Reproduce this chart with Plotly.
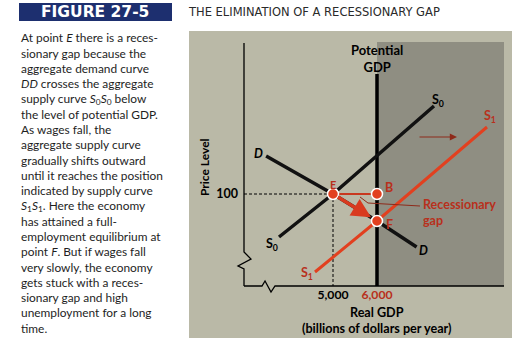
import plotly.graph_objects as go

W, H = 512, 350

# ---------------- data ----------------
gdp_tick_vals = [5000, 6000]
gdp_tick_labels = ["5,000", "6,000"]
price_tick_vals = [100]
price_tick_labels = ["100"]

demand_gdp = [3480, 5000, 6000, 6900]
demand_price = [109.5, 100, 93.25, 86.75]

s0_gdp = [3773, 5000, 7295]
s0_price = [89.25, 100, 122]

s1_gdp = [4591, 6000, 8500]
s1_price = [80.5, 93.25, 116.75]

potential_gdp = 6000
potential_price_top = 130

point_names = ["E", "B", "F"]
point_gdp = [5000, 6000, 6000]
point_price = [100, 100, 93.25]

gap_leader_gdp = [5614, 5795, 6977]
gap_leader_price = [99.25, 97.75, 97]

shift_arrow_gdp = [6932, 7818]
shift_arrow_price = [114.25, 114.25]

body_lines = [
    "At point <i>E</i> there is a reces-",
    "sionary gap because the",
    "aggregate demand curve",
    "<i>DD</i> crosses the aggregate",
    "supply curve <i>S</i><sub>0</sub><i>S</i><sub>0</sub> below",
    "the level of potential GDP.",
    "As wages fall, the",
    "aggregate supply curve",
    "gradually shifts outward",
    "until it reaches the position",
    "indicated by supply curve",
    "<i>S</i><sub>1</sub><i>S</i><sub>1</sub>. Here the economy",
    "has attained a full-",
    "employment equilibrium at",
    "point <i>F</i>. But if wages fall",
    "very slowly, the economy",
    "gets stuck with a reces-",
    "sionary gap and high",
    "unemployment for a long",
    "time.",
]

# ---------------- geometry ----------------
X_RANGE = [5000 - 89 / 0.044, 5000 + 171 / 0.044]
Y_RANGE = [77, 138]
X_DOM = [244 / W, 504 / W]
Y_DOM = [1 - 286 / H, 1 - 42 / H]


def xp(g):
    return X_DOM[0] + (g - X_RANGE[0]) / (X_RANGE[1] - X_RANGE[0]) * (X_DOM[1] - X_DOM[0])


def yp(p):
    return Y_DOM[0] + (p - Y_RANGE[0]) / (Y_RANGE[1] - Y_RANGE[0]) * (Y_DOM[1] - Y_DOM[0])


RED = "#e2401f"
DRED = "#b8301c"
BROWN = "#8e2a1a"
LIGHT = "#bab9a7"
DARK = "#8f8e82"
NAVY = "#1d2f6f"
FONT = "Lato"

fig = go.Figure()

# dashed guides
fig.add_trace(go.Scatter(x=[X_RANGE[0], point_gdp[0]], y=[point_price[0]] * 2, mode="lines",
                         line=dict(color="black", width=1, dash="3px,2px"), hoverinfo="skip"))
fig.add_trace(go.Scatter(x=[point_gdp[0]] * 2, y=[point_price[0], Y_RANGE[0]], mode="lines",
                         line=dict(color="black", width=1, dash="3px,2px"), hoverinfo="skip"))

# potential GDP
fig.add_trace(go.Scatter(x=[potential_gdp] * 2, y=[Y_RANGE[0], potential_price_top], mode="lines",
                         line=dict(color="black", width=3.5), hoverinfo="skip"))

# curves
fig.add_trace(go.Scatter(x=demand_gdp, y=demand_price, mode="lines",
                         line=dict(color="#111111", width=3.5), hoverinfo="skip"))
fig.add_trace(go.Scatter(x=s0_gdp, y=s0_price, mode="lines",
                         line=dict(color="#111111", width=3.5), hoverinfo="skip"))
fig.add_trace(go.Scatter(x=s1_gdp, y=s1_price, mode="lines",
                         line=dict(color=RED, width=3), hoverinfo="skip"))

# E to B
fig.add_trace(go.Scatter(x=point_gdp[:2], y=point_price[:2], mode="lines",
                         line=dict(color="#c9381f", width=2), hoverinfo="skip"))
# gap leader
fig.add_trace(go.Scatter(x=gap_leader_gdp, y=gap_leader_price, mode="lines",
                         line=dict(color=BROWN, width=1), hoverinfo="skip"))

# points
fig.add_trace(go.Scatter(x=point_gdp, y=point_price, mode="markers",
                         marker=dict(size=11, color=RED, line=dict(color="white", width=1.5)),
                         cliponaxis=False, hoverinfo="skip"))

shapes = []
# panel backgrounds
shapes.append(dict(type="rect", xref="paper", yref="paper", x0=189 / W, x1=1.0,
                   y0=1 - 338 / H, y1=1 - 31 / H, fillcolor=LIGHT, line=dict(width=0), layer="below"))
shapes.append(dict(type="rect", xref="paper", yref="paper", x0=xp(potential_gdp), x1=X_DOM[1],
                   y0=Y_DOM[0], y1=Y_DOM[1], fillcolor=DARK, line=dict(width=0), layer="below"))
# header box
shapes.append(dict(type="rect", xref="paper", yref="paper", x0=19 / W, x1=172 / W,
                   y0=1 - 21 / H, y1=1 - 3 / H, fillcolor=NAVY, line=dict(width=0), layer="below"))

# axis frame with breaks (data units)
yaxis_path_g = [X_RANGE[0], X_RANGE[0], 3136, 2841, X_RANGE[0], X_RANGE[0]]
yaxis_path_p = [Y_RANGE[1] - 0.25, 85.5, 83.75, 82, 81.25, Y_RANGE[0]]
xaxis_path_g = [X_RANGE[0], 3386, 3455, 3591, 3682, X_RANGE[1]]
xaxis_path_p = [Y_RANGE[0], Y_RANGE[0], 78.25, 75.5, Y_RANGE[0], Y_RANGE[0]]


def path_of(gs, ps):
    pts = [f"{xp(g):.5f},{yp(p):.5f}" for g, p in zip(gs, ps)]
    return "M" + " L".join(pts)


shapes.append(dict(type="path", xref="paper", yref="paper", path=path_of(yaxis_path_g, yaxis_path_p),
                   line=dict(color="black", width=1.3)))
shapes.append(dict(type="path", xref="paper", yref="paper", path=path_of(xaxis_path_g, xaxis_path_p),
                   line=dict(color="black", width=1.3)))

ann = []


def lab(text, g, p, color="black", size=11, xanchor="center", yanchor="middle", align="center"):
    ann.append(dict(text=text, x=g, y=p, xref="x", yref="y", showarrow=False,
                    font=dict(family=FONT, size=size, color=color, weight="bold"),
                    xanchor=xanchor, yanchor=yanchor, align=align))


lab("<i>D</i>", 3318, 110.25, size=12.5)
lab("<i>D</i>", 7068, 86, size=12.5)
lab("S<sub>0</sub>", 7390, 123.5, size=12.5)
lab("S<sub>0</sub>", 3614, 87.5, size=12.5)
lab("S<sub>1</sub>", 8568, 119.5, color=DRED, size=12.5)
lab("S<sub>1</sub>", 4409, 80.2, color=DRED, size=12.5)
lab("E", 5000, 102.4, color=DRED, size=11)
lab("B", 6270, 101.75, color=DRED, size=12.5)
lab("F", 6290, 92.3, color=DRED, size=12.5)
lab("Recessionary<br>gap", 7010, 95.3, color=DRED, size=12.5, xanchor="left", align="left")
lab("Potential<br>GDP", potential_gdp, 133.8, size=13)

# arrows
ann.append(dict(x=point_gdp[2], y=point_price[2], ax=point_gdp[0], ay=point_price[0],
                xref="x", yref="y", axref="x", ayref="y", showarrow=True, text="",
                arrowhead=2, arrowsize=1.1, arrowwidth=3.5, arrowcolor="#d93a1f",
                standoff=7, startstandoff=4))
ann.append(dict(x=shift_arrow_gdp[1], y=shift_arrow_price[1], ax=shift_arrow_gdp[0], ay=shift_arrow_price[0],
                xref="x", yref="y", axref="x", ayref="y", showarrow=True, text="",
                arrowhead=2, arrowsize=1.2, arrowwidth=1.2, arrowcolor=BROWN))

# axis titles
x_title_center = (X_DOM[0] + X_DOM[1]) / 2 + 0.004
ann.append(dict(text="Real GDP<br>(billions of dollars per year)", x=x_title_center, y=1 - 320.5 / H,
                xref="paper", yref="paper", showarrow=False,
                font=dict(family=FONT, size=12.6, color="black", weight="bold"),
                xanchor="center", yanchor="middle"))
ann.append(dict(text="Price Level", x=205 / W, y=1 - 167 / H, xref="paper", yref="paper",
                showarrow=False, textangle=-90,
                font=dict(family=FONT, size=12, color="black", weight="bold"),
                xanchor="center", yanchor="middle"))

# header and title
ann.append(dict(text="FIGURE 27-5", x=95 / W, y=1 - 12 / H, xref="paper", yref="paper", showarrow=False,
                font=dict(family="DejaVu Sans", size=15.5, color="white", weight="bold"),
                xanchor="center", yanchor="middle"))
ann.append(dict(text="THE ELIMINATION OF A RECESSIONARY GAP", x=186 / W, y=1 - 12 / H, xref="paper",
                yref="paper", showarrow=False,
                font=dict(family="DejaVu Sans", size=11.5, color="#2a2a2a"),
                xanchor="left", yanchor="middle"))

# body text
for i, line in enumerate(body_lines):
    ann.append(dict(text=line, x=19 / W, y=1 - (38 + i * 15.27) / H, xref="paper", yref="paper",
                    showarrow=False, font=dict(family=FONT, size=11.9, color="#1e1e1e"),
                    xanchor="left", yanchor="middle"))

tick_x_text = ["<b>" + gdp_tick_labels[0] + "</b>",
               "<b><span style='color:" + DRED + "'>" + gdp_tick_labels[1] + "</span></b>"]

fig.update_layout(
    width=W, height=H, margin=dict(l=0, r=0, t=0, b=0),
    paper_bgcolor="white", plot_bgcolor="rgba(0,0,0,0)",
    showlegend=False, shapes=shapes, annotations=ann,
    xaxis=dict(domain=X_DOM, range=X_RANGE, showgrid=False, zeroline=False, showline=False,
               tickvals=gdp_tick_vals, ticktext=tick_x_text, ticks="", ticklabelstandoff=0,
               tickfont=dict(family=FONT, size=12.2, color="black")),
    yaxis=dict(domain=Y_DOM, range=Y_RANGE, showgrid=False, zeroline=False, showline=False,
               tickvals=price_tick_vals, ticktext=["<b>" + t + "</b>" for t in price_tick_labels],
               ticks="", ticklabelstandoff=5,
               tickfont=dict(family=FONT, size=12.5, color="black")),
)

fig.write_html("out.html")
